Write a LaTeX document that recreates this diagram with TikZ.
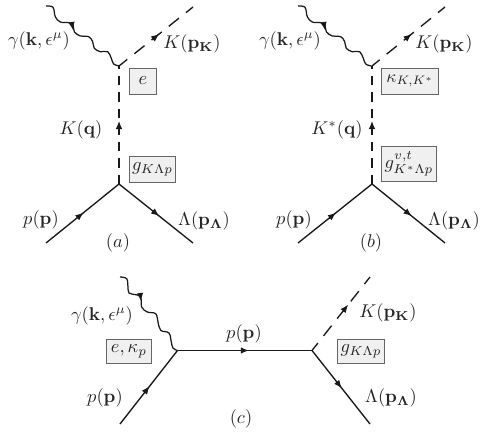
\documentclass[tikz,border=0pt]{standalone}
\usetikzlibrary{arrows.meta,calc}
\newcommand{\bp}{\mathbf{p}}
\newcommand{\Lab}[1]{\scalebox{1.85}{$#1$}}
\tikzset{
  every node/.style={text=black!85,inner sep=0pt},
  fermion/.style={line width=1.35pt,black!90},
  scalar/.style={line width=1.35pt,black!90,dash pattern=on 9.5pt off 7pt},
  diagscalar/.style={line width=1.35pt,black!90,dash pattern=on 13pt off 9pt,dash phase=4pt},
  photon/.style={line width=1.25pt,black!90,line join=round},
  tip/.style={black!90,-{Latex[length=8pt,width=6.5pt]},line width=1pt},
  vbox/.style={draw=black!60,fill=black!6,line width=0.9pt,anchor=west,align=center}
}
\newcommand{\Tip}[3]{\path (#1) -- coordinate[pos=#3] (t) (#2); \draw[tip] ($(t)!-5pt!(#2)$) -- ($(t)!4pt!(#2)$);}
\newcommand{\WaveTop}[1]{\draw[photon,shift={(#1)}] plot[smooth,tension=0.6] coordinates {(0,0)(7,1.3)(9.3,10.7)(14.3,16)(22.7,16.7)(27,19)(28.3,25.7)(34.3,30)(42.7,30.7)(46.7,35.7)(48.3,42.3)(54.3,45.7)(61.7,45.7)(65.3,52.3)(67.7,58)(73.5,60)};}
\newcommand{\WaveLow}[1]{\draw[photon,shift={(#1)}] plot[smooth,tension=0.6] coordinates {(0,0)(6.7,1.7)(8,10)(9,16)(15.7,17.7)(20.7,20)(21.7,30)(27.3,35)(35.7,36.7)(38,45)(40.7,53.3)(49,56)(51.3,65)(53,71)(57.5,73.5)};}
\begin{document}
\begin{tikzpicture}[x=1pt,y=-1pt]
\useasboundingbox (0,0) rectangle (482,434);
% ---- (a)
\coordinate (a0) at (46,6);
\coordinate (a1) at (119,66);
\coordinate (a2) at (193,7);
\coordinate (a3) at (119,184);
\coordinate (a4) at (46,243);
\coordinate (a5) at (193,243);
\WaveTop{a0}
\draw[diagscalar] (a2) -- (a1);
\draw[scalar] (a3) -- (a1);
\draw[fermion] (a4) -- (a3);
\draw[fermion] (a3) -- (a5);
\Tip{a1}{a2}{0.5}
\Tip{a3}{a1}{0.5}
\Tip{a4}{a3}{0.47}
\Tip{a3}{a5}{0.5}
\draw[tip] (71.5,22) -- (73,30);
\node (al1) at (39,41) {\Lab{\gamma(\mathbf{k},\epsilon^{\mu})}};
\node (al2) at (192,44) {\Lab{K(\bp_{\mathbf{K}})}};
\node (al3) at (81,130) {\Lab{K(\mathbf{q})}};
\node (al4) at (41,220) {\Lab{p(\bp)}};
\node (al5) at (204,221) {\Lab{\Lambda(\bp_{\mathbf{\Lambda}})}};
\node (al6) at (118,243) {\Lab{(a)}};
\node[vbox,minimum width=27pt,minimum height=26pt] (ab1) at (129,81) {\Lab{e}};
\node[vbox,minimum width=46pt,minimum height=26pt] (ab2) at (129,169) {\Lab{g_{K\Lambda p}}};
% ---- (b)
\coordinate (b0) at (298,6);
\coordinate (b1) at (372,66);
\coordinate (b2) at (445,7);
\coordinate (b3) at (372,184);
\coordinate (b4) at (298,243);
\coordinate (b5) at (445,243);
\WaveTop{b0}
\draw[diagscalar] (b2) -- (b1);
\draw[scalar] (b3) -- (b1);
\draw[fermion] (b4) -- (b3);
\draw[fermion] (b3) -- (b5);
\Tip{b1}{b2}{0.5}
\Tip{b3}{b1}{0.5}
\Tip{b4}{b3}{0.47}
\Tip{b3}{b5}{0.5}
\draw[tip] (323.5,22) -- (325,30);
\node (bl1) at (290,41) {\Lab{\gamma(\mathbf{k},\epsilon^{\mu})}};
\node (bl2) at (444,44) {\Lab{K(\bp_{\mathbf{K}})}};
\node (bl3) at (337,130) {\Lab{K^{*}(\mathbf{q})}};
\node (bl4) at (294,220) {\Lab{p(\bp)}};
\node (bl5) at (454,221) {\Lab{\Lambda(\bp_{\mathbf{\Lambda}})}};
\node (bl6) at (371,243) {\Lab{(b)}};
\node[vbox,minimum width=57pt,minimum height=26pt] (bb1) at (381,81) {\scalebox{0.95}{\Lab{\kappa_{K,K^{*}}}}};
\node[vbox,minimum width=55pt,minimum height=35pt] (bb2) at (381,164) {\Lab{g^{v,t}_{K^{*}\Lambda p}}};
% ---- (c)
\coordinate (c0) at (120,277);
\coordinate (c1) at (177.5,350.5);
\coordinate (c2) at (312,350.5);
\coordinate (c3) at (370,277);
\coordinate (c4) at (120,424);
\coordinate (c5) at (370,424);
\WaveLow{c0}
\draw[fermion] (c4) -- (c1);
\draw[fermion] (c1) -- (c2);
\draw[diagscalar] (c3) -- (c2);
\draw[fermion] (c2) -- (c5);
\Tip{c4}{c1}{0.47}
\Tip{c1}{c2}{0.5}
\Tip{c2}{c3}{0.58}
\Tip{c2}{c5}{0.47}
\draw[tip] (140,293) -- (141,301);
\node (cl1) at (102,316) {\Lab{\gamma(\mathbf{k},\epsilon^{\mu})}};
\node (cl2) at (388,313) {\Lab{K(\bp_{\mathbf{K}})}};
\node (cl3) at (244,334) {\Lab{p(\bp)}};
\node (cl4) at (105,398) {\Lab{p(\bp)}};
\node (cl5) at (391,398) {\Lab{\Lambda(\bp_{\mathbf{\Lambda}})}};
\node (cl6) at (241,419) {\Lab{(c)}};
\node[vbox,minimum width=45pt,minimum height=24pt] (cb1) at (106,351) {\Lab{e,\kappa_{p}}};
\node[vbox,minimum width=47pt,minimum height=24pt] (cb2) at (337,351) {\Lab{g_{K\Lambda p}}};
\end{tikzpicture}
\end{document}
